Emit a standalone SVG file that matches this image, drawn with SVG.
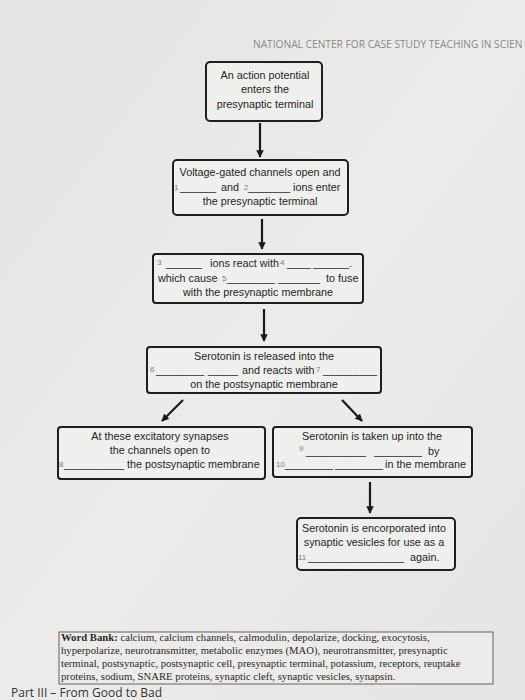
<svg xmlns="http://www.w3.org/2000/svg" width="525" height="700" viewBox="0 0 525 700">
<defs>
<linearGradient id="bg" x1="0" y1="0" x2="1" y2="1">
<stop offset="0" stop-color="#e4e4e2"/>
<stop offset="0.5" stop-color="#ecebe9"/>
<stop offset="1" stop-color="#e6e5e3"/>
</linearGradient>
<marker id="ah" viewBox="0 0 10 10" refX="9" refY="5" markerWidth="3.6" markerHeight="3.4" orient="auto" markerUnits="strokeWidth">
<path d="M0,0 L10,5 L0,10 z" fill="#1a1a1a"/>
</marker>
<style>
.box{fill:#efefed;stroke:#1e1e1e;stroke-width:2}
.t{font-family:"Liberation Sans",Arial,sans-serif;font-size:10.8px;fill:#262626;text-anchor:middle}
.tl{font-family:"Liberation Sans",Arial,sans-serif;font-size:10.8px;fill:#262626}
.n{font-size:8px;fill:#808080}
.c{stroke:#1a1a1a;stroke-width:2.2;fill:none;marker-end:url(#ah)}
.wb{font-family:"Liberation Serif","Times New Roman",serif;font-size:10.7px;fill:#2a2a2a}
</style>
</defs>
<rect width="525" height="700" fill="url(#bg)"/>
<text x="253" y="48" font-family="'Open Sans','Liberation Sans',sans-serif" font-size="10.2" fill="#8a8a8a">NATIONAL CENTER FOR CASE STUDY TEACHING IN SCIEN</text>

<g id="connectors">
<line class="c" x1="260" y1="123" x2="260" y2="157"/>
<line class="c" x1="262" y1="219" x2="262" y2="249"/>
<line class="c" x1="264" y1="309" x2="264" y2="341"/>
<line class="c" x1="183" y1="400" x2="162" y2="421"/>
<line class="c" x1="342" y1="400" x2="362" y2="421"/>
<line class="c" x1="370" y1="482" x2="370" y2="513"/>
</g>

<g id="n1">
<rect class="box" x="206" y="62" width="116" height="59" rx="4"/>
<text class="t" x="265" y="79">An action potential</text>
<text class="t" x="265" y="93">enters the</text>
<text class="t" x="265" y="108">presynaptic terminal</text>
</g>

<g id="n2">
<rect class="box" x="173" y="160" width="175" height="55" rx="4"/>
<text class="t" x="260" y="176">Voltage-gated channels open and</text>
<text class="tl" y="191"><tspan class="n" x="174" dy="-1">1</tspan><tspan x="180" dy="1">______</tspan><tspan x="221">and</tspan><tspan class="n" x="244" dy="-1">2</tspan><tspan x="248" dy="1">_______</tspan><tspan x="293">ions enter</tspan></text>
<text class="t" x="260" y="205">the presynaptic terminal</text>
</g>

<g id="n3">
<rect class="box" x="153" y="254" width="210" height="49" rx="3"/>
<text class="tl" y="267"><tspan class="n" x="157" dy="-2">3</tspan><tspan x="166" dy="2">______</tspan><tspan x="210">ions react with</tspan><tspan class="n" x="280" dy="-2">4</tspan><tspan x="287" dy="2">____</tspan><tspan x="313">______.</tspan></text>
<text class="tl" y="282"><tspan x="158">which cause</tspan><tspan class="n" x="222" dy="-1">5</tspan><tspan x="227" dy="1">________</tspan><tspan x="278">_______</tspan><tspan x="326">to fuse</tspan></text>
<text class="t" x="258" y="296">with the presynaptic membrane</text>
</g>

<g id="n4">
<rect class="box" x="147" y="347" width="234" height="46" rx="3"/>
<text class="t" x="264" y="360">Serotonin is released into the</text>
<text class="tl" y="374"><tspan class="n" x="150" dy="-2">6</tspan><tspan x="156" dy="2">________</tspan><tspan x="208">_____</tspan><tspan x="242">and reacts with</tspan><tspan class="n" x="316" dy="-2">7</tspan><tspan x="323" dy="2">_________</tspan></text>
<text class="t" x="264" y="388">on the postsynaptic membrane</text>
</g>

<g id="n5">
<rect class="box" x="58" y="427" width="207" height="52" rx="3"/>
<text class="t" x="160" y="440">At these excitatory synapses</text>
<text class="t" x="160" y="454">the channels open to</text>
<text class="tl" y="468"><tspan class="n" x="59" dy="-1">8</tspan><tspan x="64" dy="1">__________</tspan><tspan x="127">the postsynaptic membrane</tspan></text>
</g>

<g id="n6">
<rect class="box" x="273" y="427" width="199" height="50" rx="3"/>
<text class="t" x="372" y="440">Serotonin is taken up into the</text>
<text class="tl" y="455"><tspan class="n" x="299" dy="-4">9</tspan><tspan x="306" dy="4">__________</tspan><tspan x="374">________</tspan><tspan x="428">by</tspan></text>
<text class="tl" y="468"><tspan class="n" x="276" dy="-1">10</tspan><tspan x="285" dy="1">________</tspan><tspan x="335">________</tspan><tspan x="385">in the membrane</tspan></text>
</g>

<g id="n7">
<rect class="box" x="297" y="518" width="158" height="52" rx="4"/>
<text class="t" x="374" y="532">Serotonin is encorporated into</text>
<text class="t" x="374" y="546">synaptic vesicles for use as a</text>
<text class="tl" y="561"><tspan class="n" x="298" dy="-1">11</tspan><tspan x="308" dy="1">________________</tspan><tspan x="410">again.</tspan></text>
</g>

<g id="wordbank">
<rect x="59" y="632" width="434" height="52" fill="#ecebe9" stroke="#555" stroke-width="0.9"/>
<text class="wb" x="61" y="641"><tspan font-weight="bold">Word Bank:</tspan> calcium, calcium channels, calmodulin, depolarize, docking, exocytosis,</text>
<text class="wb" x="61" y="654">hyperpolarize, neurotransmitter, metabolic enzymes (MAO), neurotransmitter, presynaptic</text>
<text class="wb" x="61" y="667">terminal, postsynaptic, postsynaptic cell, presynaptic terminal, potassium, receptors, reuptake</text>
<text class="wb" x="61" y="680">proteins, sodium, SNARE proteins, synaptic cleft, synaptic vesicles, synapsin.</text>
</g>
<text x="11" y="697" font-family="'Open Sans','Liberation Sans',sans-serif" font-size="12" fill="#333">Part III – From Good to Bad</text>
</svg>
